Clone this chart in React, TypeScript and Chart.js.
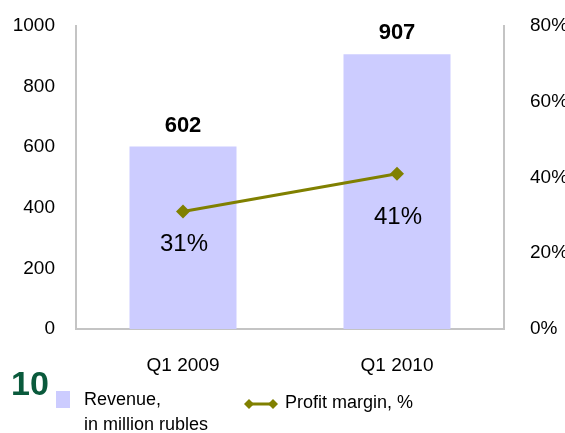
import React, { useEffect, useRef } from "react";
import { Chart, registerables } from "chart.js";

Chart.register(...registerables);

const categories = ["Q1 2009", "Q1 2010"];
const revenue = [602, 907];
const profitMargin = [31, 41];
const leftTicks = [0, 200, 400, 600, 800, 1000];
const rightTicks = [0, 20, 40, 60, 80];
const pageNumber = "10";
const revenueLegend = ["Revenue,", "in million rubles"];
const marginLegend = "Profit margin, %";

const FONT = "'Liberation Sans', Arial, sans-serif";
const BAR = "#ccccff";
const OLIVE = "#808000";
const AXIS = "#c4c4c4";

const overlay = {
  id: "overlay",
  afterDatasetsDraw(chart: any) {
    const ctx = chart.ctx;
    ctx.save();
    // bar value labels
    const barMeta = chart.getDatasetMeta(0);
    ctx.font = `bold 22px ${FONT}`;
    ctx.fillStyle = "#000";
    ctx.textAlign = "center";
    ctx.textBaseline = "middle";
    barMeta.data.forEach((el: any, i: number) => {
      ctx.fillText(String(revenue[i]), el.x, el.y - 21);
    });
    // line labels
    const lineMeta = chart.getDatasetMeta(1);
    ctx.font = `24px ${FONT}`;
    const offs = [33, 44];
    lineMeta.data.forEach((el: any, i: number) => {
      ctx.fillText(profitMargin[i] + "%", el.x + 1, el.y + offs[i]);
    });
    // page number
    ctx.font = `bold 34px ${FONT}`;
    ctx.fillStyle = "#0a5a3c";
    ctx.textAlign = "left";
    ctx.textBaseline = "alphabetic";
    ctx.fillText(pageNumber, 11, 395);
    // legend: revenue
    ctx.fillStyle = BAR;
    ctx.fillRect(56, 391, 14, 17);
    ctx.fillStyle = "#000";
    ctx.font = `18px ${FONT}`;
    ctx.textBaseline = "middle";
    ctx.fillText(revenueLegend[0], 84, 400);
    ctx.fillText(revenueLegend[1], 84, 425);
    // legend: margin
    ctx.strokeStyle = OLIVE;
    ctx.lineWidth = 3;
    ctx.beginPath();
    ctx.moveTo(247, 404);
    ctx.lineTo(275, 404);
    ctx.stroke();
    ctx.fillStyle = OLIVE;
    [249, 273].forEach((cx) => {
      ctx.beginPath();
      ctx.moveTo(cx, 399);
      ctx.lineTo(cx + 5, 404);
      ctx.lineTo(cx, 409);
      ctx.lineTo(cx - 5, 404);
      ctx.closePath();
      ctx.fill();
    });
    ctx.fillStyle = "#000";
    ctx.fillText(marginLegend, 285, 403);
    ctx.restore();
  },
};

export default function App() {
  const ref = useRef<HTMLCanvasElement>(null);
  useEffect(() => {
    if (!ref.current) return;
    const chart = new Chart(ref.current, {
      type: "bar",
      data: {
        labels: categories,
        datasets: [
          {
            type: "bar",
            label: "Revenue",
            data: revenue,
            backgroundColor: BAR,
            barPercentage: 0.5,
            categoryPercentage: 1,
            yAxisID: "y",
            order: 2,
          },
          {
            type: "line",
            label: "Profit margin, %",
            data: profitMargin,
            borderColor: OLIVE,
            backgroundColor: OLIVE,
            borderWidth: 3,
            pointStyle: "rectRot",
            pointRadius: 7,
            pointBorderWidth: 0,
            yAxisID: "y1",
            order: 1,
          } as any,
        ],
      },
      options: {
        animation: false,
        responsive: false,
        maintainAspectRatio: false,
        layout: { padding: { top: 26, left: 0, right: 0, bottom: 0 } },
        plugins: { legend: { display: false }, tooltip: { enabled: false } },
        scales: {
          x: {
            grid: { display: false, drawTicks: false },
            border: { display: true, color: AXIS, width: 2 },
            ticks: { color: "#000", font: { family: FONT, size: 19 }, padding: 25 },
            afterFit: (s: any) => {
              s.height = 433 - 329;
              s.paddingLeft = 0;
              s.paddingRight = 0;
            },
          },
          y: {
            position: "left",
            min: 0,
            max: 1000,
            afterBuildTicks: (s: any) => { s.ticks = leftTicks.map((v) => ({ value: v })); },
            grid: { display: false, drawTicks: false },
            border: { display: true, color: AXIS, width: 2 },
            ticks: {
              color: "#000",
              font: { family: FONT, size: 19 },
              padding: 21,
              callback: (v: any) => String(v),
            },
            afterFit: (s: any) => {
              s.width = 76;
              s.paddingTop = 0;
              s.paddingBottom = 0;
            },
          },
          y1: {
            position: "right",
            min: 0,
            max: 80,
            afterBuildTicks: (s: any) => { s.ticks = rightTicks.map((v) => ({ value: v })); },
            grid: { display: false, drawTicks: false },
            border: { display: true, color: AXIS, width: 2 },
            ticks: {
              color: "#000",
              font: { family: FONT, size: 19 },
              padding: 26,
              callback: (v: any) => v + "%",
            },
            afterFit: (s: any) => {
              s.width = 565 - 504;
              s.paddingTop = 0;
              s.paddingBottom = 0;
            },
          },
        },
      },
      plugins: [overlay],
    });
    return () => chart.destroy();
  }, []);
  return (
    <div style={{ position: "absolute", left: 0, top: 0, width: 565, height: 433, background: "#fff" }}>
      <canvas ref={ref} width={565} height={433} style={{ width: 565, height: 433 }} />
    </div>
  );
}
